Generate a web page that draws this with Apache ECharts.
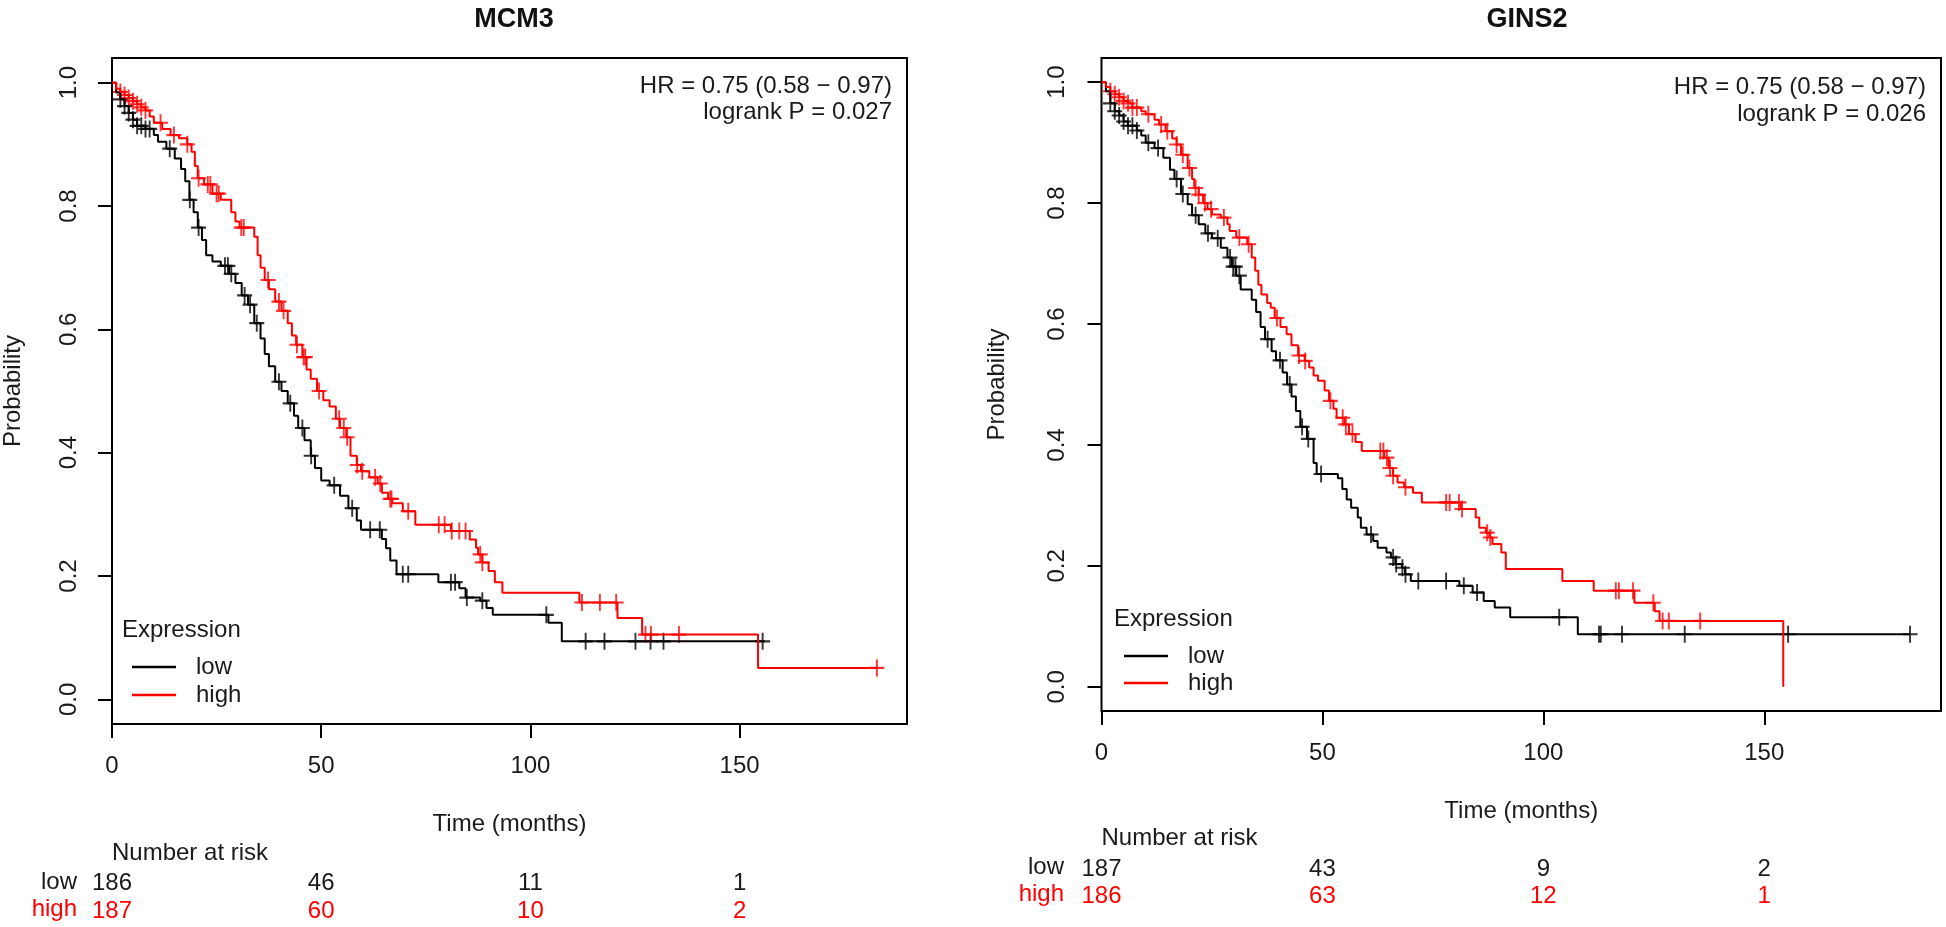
<!DOCTYPE html>
<html><head><meta charset="utf-8">
<script src="https://cdn.jsdelivr.net/npm/echarts@6/dist/echarts.min.js"></script>
<style>html,body{margin:0;padding:0;background:#fff}#c{width:1946px;height:927px}</style>
</head><body><div id="c"></div>
<script>
// ---------------- DATA ----------------
const xTicks = [0, 50, 100, 150];
const yTicks = [0, 0.2, 0.4, 0.6, 0.8, 1.0];
const panelTitles = ['MCM3', 'GINS2'];
const hrLabels = ['HR = 0.75 (0.58 − 0.97)', 'HR = 0.75 (0.58 − 0.97)'];
const pLabels = ['logrank P = 0.027', 'logrank P = 0.026'];
const groupNames = ['low', 'high'];

// Kaplan-Meier steps [time, survival after event]
const mcm3Low = [[0,1.0],[1,0.984],[2,0.973],[3,0.962],[4,0.951],[5,0.94],[6,0.93],[8,0.925],[10,0.915],[11,0.904],[13,0.893],[15,0.877],[16.5,0.86],[17.5,0.84],[18.5,0.81],[19.5,0.79],[20.5,0.765],[21.5,0.745],[22.5,0.72],[24,0.71],[26,0.703],[28,0.69],[29.5,0.675],[31,0.655],[32.5,0.64],[34,0.61],[35.5,0.585],[36.5,0.56],[37.5,0.54],[39,0.515],[40.5,0.5],[42,0.48],[43.5,0.46],[44.5,0.44],[46,0.42],[47.5,0.395],[48.5,0.375],[50,0.355],[52,0.347],[54.5,0.33],[56.5,0.31],[58.5,0.29],[59.5,0.275],[64.5,0.26],[65.5,0.245],[66.5,0.225],[68,0.203],[78,0.19],[83,0.18],[84.5,0.165],[88,0.16],[89.5,0.148],[91,0.137],[104.3,0.124],[107.5,0.094],[156,0.094]];
const mcm3LowCens = [2,3,4,5,6,7,8,9,13.8,18.6,20.7,27,27.7,28.5,31.7,33,34.6,39.9,42.6,45.5,47.6,53.1,57.4,61.7,64,69.5,70.8,81,82,84.8,88.5,103.8,113.2,117.7,125.1,128.7,131.8,155.5];
const mcm3High = [[0,1],[1,0.99],[2,0.985],[3,0.98],[4,0.975],[5,0.97],[6,0.965],[7,0.96],[8,0.955],[9,0.945],[10,0.935],[12,0.925],[14,0.915],[16,0.91],[18,0.9],[19,0.888],[19.8,0.865],[20.5,0.845],[22,0.835],[24,0.82],[26,0.81],[28.5,0.79],[29.5,0.775],[30.5,0.765],[34,0.75],[34.8,0.72],[35.5,0.7],[36.5,0.68],[37.5,0.665],[39,0.645],[40.5,0.63],[42,0.61],[43,0.59],[44,0.575],[45.5,0.555],[46.5,0.535],[47.5,0.52],[49,0.5],[50.5,0.485],[52,0.475],[53.5,0.455],[54.5,0.44],[56,0.425],[57,0.395],[58.5,0.38],[59.5,0.37],[61.5,0.36],[63.5,0.35],[64.5,0.335],[66,0.325],[67,0.318],[69.5,0.305],[72.5,0.283],[81,0.273],[85.5,0.259],[87,0.246],[87.5,0.235],[88.5,0.222],[90,0.208],[91.5,0.19],[93.3,0.173],[111.7,0.157],[120.8,0.132],[126.7,0.105],[154.4,0.051],[183,0.051]];
const mcm3HighCens = [2,3,4,5,6,7,8,11.6,14.8,18,20.7,22.9,23.5,25,25.5,30.9,31.5,37.3,39.9,41,44.2,45.8,46.2,49.5,54.3,55.4,56.2,58.6,59.8,62.9,64.1,66.5,66.8,70.8,78.1,79.5,81.2,83,84.5,88,88.5,112.3,116.6,120.5,127.5,128.8,135.5,182.8];

const gins2Low = [[0,1],[1,0.985],[2,0.965],[3,0.952],[4,0.945],[5,0.935],[6,0.928],[8,0.92],[9,0.912],[10,0.9],[12,0.891],[14,0.875],[15.5,0.855],[16.5,0.84],[18,0.815],[19.5,0.798],[20.5,0.78],[22,0.765],[23.5,0.75],[25,0.742],[27,0.726],[28.5,0.71],[29.5,0.695],[30.5,0.68],[31.5,0.657],[34,0.64],[35,0.62],[36,0.595],[37,0.575],[38.5,0.555],[39.5,0.54],[41,0.52],[42,0.5],[43,0.48],[44,0.456],[45,0.43],[46.5,0.41],[48,0.37],[48.7,0.352],[53.5,0.345],[54.5,0.327],[55.5,0.31],[56.5,0.296],[58,0.28],[58.7,0.263],[60,0.252],[61.5,0.241],[62.5,0.23],[64.5,0.222],[65.5,0.214],[66.5,0.203],[68,0.197],[68.7,0.186],[70,0.175],[81,0.167],[84,0.156],[86.5,0.142],[89,0.131],[92.5,0.115],[107.8,0.087],[183,0.087]];
const gins2LowCens = [2,3,4,5,6,7,8,10.6,12.8,17,18.4,21.3,24.1,26.3,29.1,29.8,30.3,31.2,37.6,40.4,42.6,45.4,46.8,49.7,61,66,66.7,68.1,68.8,71.7,78,82,85,103.6,112.6,113,117.8,132,155.4,183];
const gins2High = [[0,1],[1,0.992],[2,0.985],[3,0.98],[4,0.975],[5,0.969],[6,0.965],[7,0.958],[9,0.952],[10,0.947],[12,0.938],[13,0.93],[14.5,0.919],[16,0.907],[17,0.897],[18,0.88],[19.5,0.858],[20.5,0.84],[21,0.825],[22,0.814],[23,0.8],[24,0.79],[25,0.781],[27,0.776],[28.5,0.765],[29,0.754],[30.5,0.743],[33,0.732],[34,0.71],[34.8,0.688],[35.5,0.665],[36.2,0.649],[37.5,0.635],[38.3,0.627],[39.2,0.61],[40.5,0.595],[41.9,0.583],[43,0.565],[44.5,0.548],[46,0.539],[47,0.528],[48,0.515],[49,0.506],[50.5,0.49],[51.5,0.473],[52.5,0.46],[53.2,0.445],[55,0.434],[56,0.418],[57.5,0.405],[58.9,0.39],[64,0.379],[65,0.362],[66,0.349],[67,0.338],[68.5,0.33],[70.5,0.321],[72.5,0.305],[81.3,0.294],[84.7,0.28],[85.5,0.263],[87,0.255],[87.8,0.247],[88.5,0.236],[90.5,0.222],[91.5,0.195],[104.3,0.175],[111.4,0.159],[120.6,0.139],[125.2,0.125],[126.3,0.109],[154.3,0.0]];
const gins2HighCens = [2,3,4,5,6,7,8,10.6,13.5,14.9,17,18.4,19.9,21.3,22,23.4,24.8,27.7,31.2,33.3,39.7,44.7,46.1,51.8,54.6,55.3,56.8,63.1,63.8,64.6,65.3,66,68.8,78,78.8,80.9,81.6,87.3,88,116.4,117.1,120.3,124.9,127,128.4,135.5];

const riskMcm3Low = [186, 46, 11, 1];
const riskMcm3High = [187, 60, 10, 2];
const riskGins2Low = [187, 43, 9, 2];
const riskGins2High = [186, 63, 12, 1];

// ---------------- LAYOUT / STYLE ----------------
const FONT = '"Liberation Sans", Arial, sans-serif';
const TXT = '#1a1a1a';
const RED = '#ff0000';
const FS = 24;
const panels = [
  { grid: {left: 112, top: 58, width: 795, height: 666}, low: mcm3Low, high: mcm3High, lowC: mcm3LowCens, highC: mcm3HighCens,
    riskLow: riskMcm3Low, riskHigh: riskMcm3High, nameGapY: 87, labelMarginY: 31, nameGapX: 88,
    riskLowOff: 147, riskHighOff: 175, hrX: 892, hrY: [86, 112], legTop: 655, legGap: 4, legLeft: 132, exprY: 630, exprX: 122,
    riskHeadX: 77, riskHeadY: [882, 909], narY: 853, titleX: 509 },
  { grid: {left: 1101.5, top: 58, width: 839.5, height: 653}, low: gins2Low, high: gins2High, lowC: gins2LowCens, highC: gins2HighCens,
    riskLow: riskGins2Low, riskHigh: riskGins2High, nameGapY: 92, labelMarginY: 32, nameGapX: 88,
    riskLowOff: 146, riskHighOff: 173, hrX: 1926, hrY: [87, 114], legTop: 644, legGap: 3, legLeft: 1124, exprY: 619, exprX: 1114,
    riskHeadX: 1064, riskHeadY: [867, 894], narY: 838, titleX: 1522 }
];

function levelAt(curve, t) {
  let s = curve[0][1];
  for (const p of curve) { if (p[0] <= t) s = p[1]; else break; }
  return s;
}
const PLUS = 'path://M7,0h2v7h7v2h-7v7h-2v-7h-7v-2h7z';

const grids = [], xAxes = [], yAxes = [], series = [], titles = [], legends = [], graphics = [];
panels.forEach((p, i) => {
  grids.push(Object.assign({show: true, borderColor: '#000', borderWidth: 2, backgroundColor: 'transparent', outerBoundsMode: 'none'}, p.grid));
  const base = xAxes.length;
  xAxes.push({
    type: 'value', gridIndex: i, min: 0, max: 190, position: 'bottom',
    name: 'Time (months)', nameLocation: 'middle', nameGap: p.nameGapX,
    nameTextStyle: {fontFamily: FONT, fontSize: FS, color: TXT},
    axisLine: {show: false, onZero: false},
    axisTick: {show: true, length: 14, lineStyle: {color: '#000', width: 2}, customValues: xTicks},
    axisLabel: {customValues: xTicks, fontFamily: FONT, fontSize: FS, color: TXT, margin: 30},
    splitLine: {show: false}
  });
  [[p.riskLow, p.riskLowOff, TXT], [p.riskHigh, p.riskHighOff, RED]].forEach(([arr, off, col]) => {
    xAxes.push({
      type: 'value', gridIndex: i, min: 0, max: 190, position: 'bottom', offset: off,
      axisLine: {show: false, onZero: false}, axisTick: {show: false}, splitLine: {show: false},
      axisLabel: {customValues: xTicks, margin: 0, fontFamily: FONT, fontSize: FS, color: col,
        formatter: v => String(arr[xTicks.indexOf(v)])}
    });
  });
  yAxes.push({
    type: 'value', gridIndex: i, min: -0.04, max: 1.04,
    name: 'Probability', nameLocation: 'middle', nameGap: p.nameGapY,
    nameTextStyle: {fontFamily: FONT, fontSize: FS, color: TXT},
    axisLine: {show: false, onZero: false},
    axisTick: {show: true, length: 14, lineStyle: {color: '#000', width: 2}, customValues: yTicks},
    axisLabel: {customValues: yTicks, rotate: 90, fontFamily: FONT, fontSize: FS, color: TXT, margin: p.labelMarginY,
      formatter: v => v.toFixed(1)},
    splitLine: {show: false}
  });
  [[p.low, p.lowC, '#000', 'low'], [p.high, p.highC, RED, 'high']].forEach(([curve, cens, col, nm]) => {
    series.push({
      type: 'line', name: nm, xAxisIndex: base, yAxisIndex: i, step: 'end', showSymbol: false, silent: true,
      data: curve, color: col, lineStyle: {color: col, width: 2}, animation: false
    });
    series.push({
      type: 'scatter', name: nm, xAxisIndex: base, yAxisIndex: i, symbol: PLUS, symbolSize: [15, 17], silent: true,
      data: cens.map(t => [t, levelAt(curve, t)]), itemStyle: {color: col}, animation: false
    });
  });
  titles.push({text: panelTitles[i], left: p.titleX, top: 1, textAlign: 'center',
    textStyle: {fontFamily: FONT, fontSize: 27, fontWeight: 'bold', color: '#111'}});
  legends.push({
    data: groupNames, orient: 'vertical', left: p.legLeft, top: p.legTop, itemGap: p.legGap, padding: 0,
    icon: 'rect', itemWidth: 44, itemHeight: 2.5, selectedMode: false,
    textStyle: {fontFamily: FONT, fontSize: FS, color: TXT, padding: [0, 0, 0, 15]}
  });
  const txt = (x, y, s, align, col) => ({type: 'text', x, y, silent: true,
    style: {text: s, textAlign: align, textVerticalAlign: 'middle', font: FS + 'px ' + FONT, fill: col || TXT}});
  graphics.push(txt(p.hrX, p.hrY[0], hrLabels[i], 'right'));
  graphics.push(txt(p.hrX, p.hrY[1], pLabels[i], 'right'));
  graphics.push(txt(p.exprX, p.exprY, 'Expression', 'left'));
  graphics.push(txt(p.grid.left, p.narY, 'Number at risk', 'left'));
  graphics.push(txt(p.riskHeadX, p.riskHeadY[0], groupNames[0], 'right'));
  graphics.push(txt(p.riskHeadX, p.riskHeadY[1], groupNames[1], 'right', RED));
});

const chart = echarts.init(document.getElementById('c'), null, {renderer: 'canvas'});
chart.setOption({
  animation: false,
  backgroundColor: '#fff',
  title: titles,
  grid: grids,
  xAxis: xAxes,
  yAxis: yAxes,
  legend: legends,
  series: series,
  graphic: {elements: graphics}
});
</script></body></html>
